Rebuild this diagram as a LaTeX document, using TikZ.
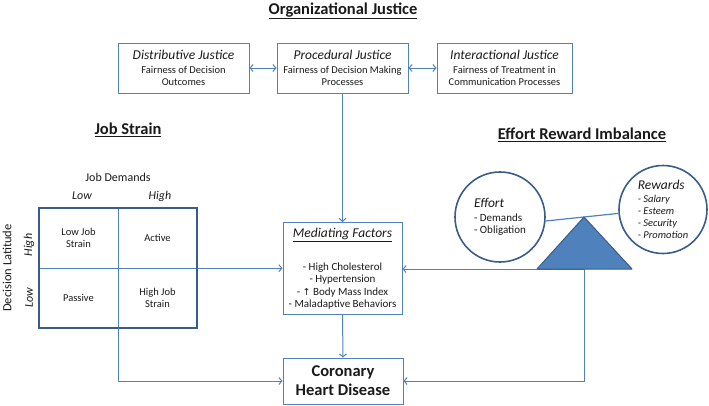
\documentclass[tikz,border=0pt]{standalone}
\usepackage{fontspec}
\setmainfont{Carlito}
\newfontfamily\dejavu{DejaVu Sans}
\usetikzlibrary{arrows.meta}
\definecolor{boxblue}{HTML}{4F81BD}
\definecolor{darkblue}{HTML}{385D8A}
\definecolor{txt}{HTML}{1A1A1A}
\begin{document}
\begin{tikzpicture}[x=1pt,y=-1pt,
  every node/.style={text=txt},
  jbox/.style={draw=boxblue, line width=1pt, minimum width=131pt, minimum height=50pt, align=center, inner sep=1pt, font=\fontsize{10.5}{12}\selectfont},
  bigbox/.style={draw=boxblue, line width=1pt, align=center, inner sep=1pt},
  conn/.style={draw=boxblue, line width=1pt, -{Straight Barb[length=3pt,width=7pt]}},
  dconn/.style={draw=boxblue, line width=1pt, {Straight Barb[length=3pt,width=7pt]}-{Straight Barb[length=3pt,width=7pt]}},
  heading/.style={font=\fontsize{16.5}{18}\selectfont\bfseries},
  cell/.style={minimum width=79pt, minimum height=60pt, inner sep=0pt, align=center, font=\fontsize{10.5}{12.5}\selectfont},
  lbl/.style={font=\fontsize{12}{14}\selectfont, inner sep=0pt},
  ilbl/.style={font=\fontsize{12}{14}\selectfont\itshape, inner sep=0pt},
  ring/.style={circle, draw=darkblue, line width=1.6pt, inner sep=0pt, align=left},
]
\useasboundingbox (0,0) rectangle (709,405);

% titles
\node[heading] (tOJ) at (343,11) {\underline{Organizational Justice}};
\node[heading] (tJS) at (128,130) {\underline{Job Strain}};
\node[heading] (tERI) at (582,135) {\underline{Effort Reward Imbalance}};

% justice boxes
\node[jbox] (dist) at (183.5,68) {{\fontsize{13.5}{14}\selectfont\itshape Distributive Justice}\\[1.5pt]Fairness of Decision\\Outcomes};
\node[jbox] (proc) at (342.5,68) {{\fontsize{13.5}{14}\selectfont\itshape Procedural Justice}\\[1.5pt]Fairness of Decision Making\\Processes};
\node[jbox, minimum width=135pt] (inter) at (504.5,68) {{\fontsize{13.5}{14}\selectfont\itshape Interactional Justice}\\[1.5pt]Fairness of Treatment in\\Communication Processes};
\draw[dconn] (dist.east) -- (proc.west);
\draw[dconn] (proc.east) -- (inter.west);

% mediating factors
\node[bigbox, minimum width=119pt, minimum height=92pt, font=\fontsize{11}{12.2}\selectfont] (med) at (342.5,268.5)
  {{\fontsize{13.5}{14}\selectfont\underline{\textit{Mediating Factors}}}\\[21pt]
   - High Cholesterol\\- Hypertension\\- {\dejavu\fontsize{9.5}{10}\selectfont ↑} Body Mass Index\\- Maladaptive Behaviors};
% coronary heart disease
\node[bigbox, minimum width=120pt, minimum height=46pt, font=\fontsize{16.5}{19}\selectfont\bfseries] (chd) at (343,381) {Coronary\\Heart Disease};

\draw[conn] (proc.south) -- (med.north);
\draw[conn] (med.south) -- (chd.north);

% job strain grid
\node[cell] (c11) at (78.5,238) {Low Job\\Strain};
\node[cell] (c12) at (157.5,238) {Active};
\node[cell] (c21) at (78.5,298) {Passive};
\node[cell] (c22) at (157.5,298) {High Job\\Strain};
\draw[boxblue, line width=1pt] (c11.north east) -- (c21.south east);
\draw[boxblue, line width=1pt] (c11.south west) -- (c12.south east);
\draw[darkblue, line width=1.8pt] (c11.north west) rectangle (c22.south east);

\node[lbl] (jd) at (118,177) {Job Demands};
\node[ilbl] (jdl) at (82,196) {Low};
\node[ilbl] (jdh) at (160,196) {High};
\node[lbl, rotate=90, font=\fontsize{12.5}{14}\selectfont] (dl) at (7,268) {Decision Latitude};
\node[ilbl, rotate=90] (dlh) at (29,245) {High};
\node[ilbl, rotate=90] (dll) at (29,298) {Low};

\draw[conn] (c12.south east) -- (c12.south east -| med.west);
\draw[conn] (c21.south east) |- (chd.west);

% effort reward imbalance
\node[ring, minimum size=90pt] (effort) at (500,217)
  {{\fontsize{13.5}{14}\selectfont\itshape Effort}\\[1.5pt]{\fontsize{11}{12}\selectfont - Demands}\\{\fontsize{11}{12}\selectfont - Obligation}};
\node[ring, minimum size=88pt] (rewards) at (663,209.5)
  {{\fontsize{13.5}{14}\selectfont\itshape Rewards}\\[0.5pt]{\fontsize{10.5}{12}\selectfont\itshape - Salary}\\{\fontsize{10.5}{12}\selectfont\itshape - Esteem}\\{\fontsize{10.5}{12}\selectfont\itshape - Security}\\{\fontsize{10.5}{12}\selectfont\itshape - Promotion}};
\coordinate (apex) at (584,217);
\coordinate (bl) at (537,269);
\coordinate (br) at (632,269);
\coordinate (bm) at (584,269);
\draw[boxblue, line width=1.2pt] (effort.-5) -- (rewards.185);
\draw[boxblue, line width=1pt] (bl) -- (bm);
\draw[conn] (bl) -- (bl -| med.east);
\draw[conn] (bm) |- (chd.east);
\draw[fill=boxblue, draw=darkblue, line width=1pt, line join=round] (apex) -- (br) -- (bl) -- cycle;
\end{tikzpicture}
\end{document}
